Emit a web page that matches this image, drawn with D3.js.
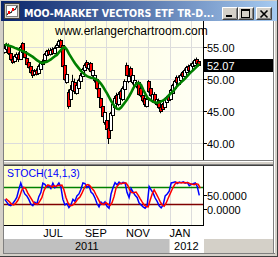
<!DOCTYPE html>
<html><head><meta charset="utf-8">
<script src="https://cdn.jsdelivr.net/npm/d3@7"></script>
<style>html,body{margin:0;padding:0;background:#d4d0c8;overflow:hidden}svg{display:block}</style>
</head><body>
<svg id="c" width="278" height="257"></svg>
<script>
const title = "MOO-MARKET VECTORS ETF TR-D...";
const watermark = "www.erlangerchartroom.com";
const stochTitle = "STOCH(14,1,3)";
const startDate = "2011-05-07", endDate = "2012-02-13";
const open  = [54.2,54.6,55.3,54.0,53.1,52.7,53.4,53.9,53.1,55.5,54.3,53.3,52.6,51.9,51.3,50.7,51.3,50.9,51.5,52.3,52.9,53.7,54.4,53.8,54.6,54.0,54.9,55.2,56.0,55.2,52.2,49.5,47.9,46.8,48.2,49.4,47.8,48.6,49.6,50.4,51.3,52.6,51.6,52.4,50.6,49.8,50.0,48.6,47.0,45.8,43.2,43.6,42.3,42.0,44.4,45.5,47.5,46.0,48.0,46.8,48.4,52.2,49.6,51.6,49.4,49.0,48.8,49.4,48.6,47.4,47.0,45.8,49.6,48.6,46.6,47.6,46.0,46.6,45.6,46.0,45.6,46.4,47.3,46.8,47.8,48.5,50.2,49.2,49.8,51.0,50.4,51.0,52.0,51.2,51.9,52.2,53.0,52.7];
const high  = [55.4,55.6,55.5,54.3,53.4,53.8,54.1,54.1,55.2,55.7,54.6,53.6,52.9,52.2,51.5,51.5,51.6,52.2,52.6,53.0,54.0,54.5,54.7,54.8,54.9,55.0,55.5,56.1,56.2,55.4,52.5,51.2,48.3,49.0,50.6,50.0,49.3,50.0,50.9,51.7,52.4,52.9,52.5,52.6,51.6,50.8,50.2,48.9,47.3,46.1,45.0,43.9,42.6,44.8,46.2,47.3,47.8,47.9,48.3,48.8,49.9,52.5,50.6,51.9,50.8,50.0,49.6,49.7,48.9,47.7,47.2,47.0,49.8,48.9,47.8,47.9,47.0,46.9,45.9,46.2,47.0,47.3,47.5,48.4,49.2,49.8,50.5,50.5,50.8,51.2,51.6,52.0,52.2,52.4,52.7,53.1,53.3,52.9];
const low   = [53.9,54.3,53.7,52.8,52.3,52.4,53.1,52.6,52.9,54.0,53.2,52.1,51.6,50.8,50.1,50.4,50.5,50.7,51.3,52.0,52.7,53.4,53.6,53.6,53.7,53.8,54.6,55.0,54.8,51.8,49.7,49.2,45.3,46.5,47.9,47.6,47.5,48.3,49.3,50.1,51.0,51.5,51.3,51.0,50.3,49.4,48.3,47.0,45.4,44.0,42.8,42.0,39.8,41.5,44.1,45.2,45.9,45.7,46.8,46.5,48.1,50.4,49.3,50.1,49.1,48.7,48.5,47.4,47.1,46.3,45.6,45.5,47.8,47.2,46.3,46.1,45.8,45.3,44.6,45.0,45.3,46.1,46.4,46.5,47.5,48.2,49.2,49.0,49.5,50.2,50.2,50.8,51.2,51.0,51.7,52.0,52.2,51.9];
const close = [54.8,55.2,54.0,53.0,52.6,53.5,53.8,53.0,55.0,54.2,53.4,52.3,51.8,51.0,50.6,51.2,50.8,52.0,52.4,52.8,53.8,54.3,53.9,54.5,54.0,54.8,55.3,55.8,55.0,52.0,50.0,50.8,45.7,48.4,49.6,48.0,49.0,49.8,50.6,51.5,52.2,51.8,52.3,51.2,51.4,50.6,48.5,47.2,45.6,44.2,44.8,42.2,40.8,44.6,46.0,47.0,46.2,47.6,47.0,48.6,49.6,50.6,50.4,50.4,50.6,49.8,49.4,47.6,47.4,46.6,46.0,46.8,48.0,47.4,47.6,46.4,46.8,45.5,44.9,45.2,46.8,47.1,46.6,48.2,49.0,49.6,49.4,50.3,50.6,50.4,51.4,51.8,51.4,52.2,52.5,52.9,52.4,52.07];
const movingAvg = [55.35,55.25,55.15,55.05,54.95,54.8,54.7,54.55,54.45,54.3,54.15,54.0,53.8,53.6,53.4,53.15,52.9,52.7,52.5,52.45,52.55,52.65,52.8,53.0,53.25,53.5,53.7,54.1,54.45,54.8,54.9,54.5,53.9,53.4,52.9,52.4,52.0,51.6,51.2,50.9,50.6,50.4,50.25,50.15,50.1,50.0,49.8,49.55,49.2,48.75,48.2,47.7,47.1,46.55,46.05,45.6,45.3,45.25,45.5,45.9,46.3,46.75,47.25,47.8,48.45,48.95,49.3,49.3,49.0,48.3,47.7,47.1,46.8,46.6,46.4,46.3,46.2,46.3,46.45,46.6,46.8,47.1,47.45,47.75,48.05,48.45,48.85,49.15,49.45,49.75,50.05,50.4,50.75,51.05,51.35,51.65,51.95,52.3];
const stochK = [35,25,15,12,20,30,42,70,95,72,55,48,35,18,12,25,18,45,60,94,90,80,85,75,94,78,85,95,80,35,15,20,5,15,35,28,48,55,72,95,93,78,85,62,55,40,20,8,25,18,26,10,3,55,78,96,88,98,92,97,95,60,42,75,62,50,42,22,15,8,3,12,82,70,58,40,28,12,4,15,48,55,65,95,97,99,93,98,96,99,94,97,85,90,92,95,82,50];
const stochD = [38,32,25,17,15,21,31,47,69,79,74,58,46,34,22,18,18,29,41,66,81,88,85,80,85,82,86,86,87,70,43,23,13,13,18,26,37,44,58,74,87,89,85,75,67,52,38,23,18,17,23,18,13,23,45,76,87,94,93,95,95,84,66,59,60,62,51,38,26,15,9,8,32,55,70,56,42,27,15,10,22,39,56,72,86,97,96,96,96,97,96,96,92,90,89,92,90,76];
const priceTicks = [40,45,50,55];
const stochTicks = [0,50];
const stochLevels = [80,20];
const monthLabels = ["JUL","SEP","NOV","JAN"];
const monthLabelDates = ["2011-07-16","2011-09-16","2011-11-16","2012-01-16"];
const yearLabels = ["2011","2012"];

const parse = d3.timeParse("%Y-%m-%d");
const n = close.length;
const t0 = parse(startDate).getTime(), t1 = parse(endDate).getTime();
const dates = d3.range(n).map(i => new Date(t0 + i * (t1 - t0) / (n - 1)));
const data = dates.map((d, i) => ({d, o: open[i], h: high[i], l: low[i], c: close[i], ma: movingAvg[i], k: stochK[i], sd: stochD[i]}));

const svg = d3.select("#c");
const font = "'Liberation Sans', Arial, sans-serif";
const L = 4, R = 203, PT = 21, PB = 160, ST = 166, SB = 225;

const x = d3.scaleTime().domain([new Date(2011,4,1), new Date(2012,2,1)]).range([0.6, 211]);
const yP = d3.scaleLinear().domain([37.3, 59.0]).range([PB, PT]);
const yS = d3.scaleLinear().domain([-58.4, 156.9]).range([SB, ST]);

const defs = svg.append("defs");
const tg = defs.append("linearGradient").attr("id","tb");
tg.append("stop").attr("offset","0").attr("stop-color","#0a246a");
tg.append("stop").attr("offset","1").attr("stop-color","#a6caf0");
const bg = defs.append("linearGradient").attr("id","pbg");
bg.append("stop").attr("offset","0").attr("stop-color","#ffffd0");
bg.append("stop").attr("offset","1").attr("stop-color","#fffff6");
defs.append("clipPath").attr("id","cp").append("rect").attr("x",L).attr("y",PT).attr("width",R-L).attr("height",PB-PT);
defs.append("clipPath").attr("id","cs").append("rect").attr("x",L).attr("y",ST).attr("width",R-L).attr("height",SB-ST);

// window frame
svg.append("rect").attr("width",278).attr("height",257).attr("fill","#d4d0c8");
// title bar
svg.append("rect").attr("x",1).attr("y",1).attr("width",276).attr("height",20).attr("fill","url(#tb)");
// icon
const ic = svg.append("g");
ic.append("rect").attr("x",4.5).attr("y",3.5).attr("width",15).attr("height",15).attr("fill","#d4d0c8").attr("stroke","#404040");
ic.append("rect").attr("x",6.5).attr("y",5.5).attr("width",11).attr("height",11).attr("fill","#ffffff").attr("stroke","#808080");
ic.append("polyline").attr("points","7,15 9,12 11,13 13,9 15,10 17,6").attr("fill","none").attr("stroke","#000").attr("stroke-width",1);
ic.append("rect").attr("x",12).attr("y",8).attr("width",2).attr("height",3).attr("fill","#ff0000");
ic.append("rect").attr("x",8).attr("y",11).attr("width",2).attr("height",3).attr("fill","#ff0000");
svg.append("text").attr("x",24).attr("y",17).attr("fill","#ffffff").attr("font-family","'DejaVu Sans', Verdana, sans-serif")
  .attr("font-weight","bold").attr("font-size",11).attr("textLength",190).attr("lengthAdjust","spacingAndGlyphs").text(title);
// buttons
function btn(bx){
  const g = svg.append("g");
  g.append("rect").attr("x",bx).attr("y",7).attr("width",16).attr("height",13).attr("fill","#d4d0c8");
  g.append("path").attr("d",`M${bx+0.5},${19.5}V${7.5}H${bx+15.5}`).attr("stroke","#ffffff").attr("fill","none");
  g.append("path").attr("d",`M${bx+0.5},${19.5}H${bx+15.5}V${7.5}`).attr("stroke","#404040").attr("fill","none");
  g.append("path").attr("d",`M${bx+1.5},${18.5}H${bx+14.5}V${8.5}`).attr("stroke","#808080").attr("fill","none");
  return g;
}
const b1 = btn(222); b1.append("rect").attr("x",226).attr("y",15).attr("width",6).attr("height",2).attr("fill","#000");
const b2 = btn(238); b2.append("rect").attr("x",241.5).attr("y",9.5).attr("width",8).attr("height",8).attr("fill","none").attr("stroke","#000");
b2.append("rect").attr("x",241).attr("y",9).attr("width",9).attr("height",2).attr("fill","#000");
const b3 = btn(256); b3.append("path").attr("d","M260.5,10.5L267.5,17.5M267.5,10.5L260.5,17.5").attr("stroke","#000").attr("stroke-width",1.6);

// panel backgrounds
svg.append("rect").attr("x",L).attr("y",PT).attr("width",273-L).attr("height",PB-PT).attr("fill","#ffffff");
svg.append("rect").attr("x",L).attr("y",PT).attr("width",R-L).attr("height",PB-PT).attr("fill","url(#pbg)");
svg.append("rect").attr("x",L).attr("y",ST).attr("width",273-L).attr("height",239-ST).attr("fill","#ffffff");
svg.append("rect").attr("x",L).attr("y",ST).attr("width",R-L).attr("height",SB-ST).attr("fill","url(#pbg)");
// left frame line
svg.append("line").attr("x1",3.5).attr("x2",3.5).attr("y1",PT).attr("y2",253).attr("stroke","#808080");
// splitter
svg.append("line").attr("x1",L).attr("x2",273).attr("y1",160.5).attr("y2",160.5).attr("stroke","#808080");
svg.append("line").attr("x1",L).attr("x2",273).attr("y1",161.5).attr("y2",161.5).attr("stroke","#ffffff");
svg.append("line").attr("x1",L).attr("x2",273).attr("y1",164.5).attr("y2",164.5).attr("stroke","#808080");
svg.append("line").attr("x1",L).attr("x2",273).attr("y1",165.5).attr("y2",165.5).attr("stroke","#404040");
// right frame highlight
svg.append("line").attr("x1",273.5).attr("x2",273.5).attr("y1",PT).attr("y2",253).attr("stroke","#808080");
svg.append("line").attr("x1",274.5).attr("x2",274.5).attr("y1",PT).attr("y2",253).attr("stroke","#ffffff");

// gridlines
const months = d3.timeMonth.range(new Date(2011,5,1), new Date(2012,2,1));
const gx = v => Math.round(x(v)) + 0.5;
[[PT,PB],[ST,SB]].forEach(([a,b]) => {
  svg.append("g").selectAll("line").data(months).join("line")
    .attr("x1",gx).attr("x2",gx).attr("y1",a).attr("y2",b).attr("stroke","#dcdcdc");
});
svg.append("g").selectAll("line").data(priceTicks).join("line")
  .attr("x1",L).attr("x2",R).attr("y1",v=>Math.round(yP(v))+0.5).attr("y2",v=>Math.round(yP(v))+0.5).attr("stroke","#dcdcdc");

// watermark
svg.append("text").attr("x",55).attr("y",35).attr("font-family",font).attr("font-size",12).attr("fill","#000").text(watermark);

// candles
const cg = svg.append("g").attr("clip-path","url(#cp)");
data.forEach(d => {
  const c = Math.round(x(d.d));
  cg.append("line").attr("x1",c-0.5).attr("x2",c-0.5).attr("y1",yP(d.h)).attr("y2",yP(d.l)).attr("stroke","#000");
  const top = Math.round(yP(Math.max(d.o,d.c)))+0.5, bot = Math.round(yP(Math.min(d.o,d.c)))+0.5;
  cg.append("rect").attr("x",c-1.5).attr("y",top).attr("width",3).attr("height",Math.max(1,bot-top))
    .attr("fill", d.c >= d.o ? "#ffffff" : "#ff0000").attr("stroke","#000").attr("stroke-width",1);
});
cg.append("path").datum(data).attr("fill","none").attr("stroke","#008000").attr("stroke-width",2.6)
  .attr("d", d3.line().x(d=>x(d.d)).y(d=>yP(d.ma)));

// price axis
svg.append("line").attr("x1",R+0.5).attr("x2",R+0.5).attr("y1",PT).attr("y2",PB).attr("stroke","#000");
const pa = svg.append("g");
priceTicks.forEach(v => {
  const yy = Math.round(yP(v))+0.5;
  pa.append("line").attr("x1",R).attr("x2",R+4).attr("y1",yy).attr("y2",yy).attr("stroke","#000");
  pa.append("text").attr("x",R+4).attr("y",yy+4).attr("font-family",font).attr("font-size",11).attr("fill","#000").text(d3.format(".2f")(v));
});
const last = data[n-1];
const ly = yP(last.c);
svg.append("rect").attr("x",R+1).attr("y",Math.round(ly-6.5)).attr("width",69).attr("height",13).attr("fill","#000");
svg.append("text").attr("x",R+4).attr("y",Math.round(ly-6.5)+11).attr("font-family",font).attr("font-size",11).attr("fill","#fff").text(d3.format(".2f")(last.c));

// stochastic
const sg = svg.append("g").attr("clip-path","url(#cs)");
const lvlColor = {80:"#008000",20:"#800000"};
stochLevels.forEach(v => {
  sg.append("line").attr("x1",L).attr("x2",R).attr("y1",Math.round(yS(v))+0.5).attr("y2",Math.round(yS(v))+0.5)
    .attr("stroke",lvlColor[v]).attr("stroke-width",1.4);
});
sg.append("path").datum(data).attr("fill","none").attr("stroke","#0000ff").attr("stroke-width",1.5)
  .attr("d", d3.line().x(d=>x(d.d)).y(d=>yS(d.k)));
sg.append("path").datum(data).attr("fill","none").attr("stroke","#ff0000").attr("stroke-width",1.5)
  .attr("d", d3.line().x(d=>x(d.d)+1).y(d=>yS(d.sd)));
svg.append("text").attr("x",7).attr("y",176.5).attr("font-family",font).attr("font-size",10.5).attr("fill","#0000ff").text(stochTitle);
svg.append("line").attr("x1",R+0.5).attr("x2",R+0.5).attr("y1",ST).attr("y2",SB).attr("stroke","#000");
svg.append("line").attr("x1",L).attr("x2",R+1).attr("y1",SB+0.5).attr("y2",SB+0.5).attr("stroke","#000");
stochTicks.forEach(v => {
  const yy = Math.round(yS(v))+0.5;
  svg.append("line").attr("x1",R).attr("x2",R+4).attr("y1",yy).attr("y2",yy).attr("stroke","#000");
  svg.append("text").attr("x",R+4).attr("y",yy+4).attr("font-family",font).attr("font-size",11).attr("fill","#000").text(d3.format(".4f")(v));
});

// month labels
monthLabels.forEach((m,i) => {
  svg.append("text").attr("x",x(parse(monthLabelDates[i]))).attr("y",237).attr("text-anchor","middle")
    .attr("font-family",font).attr("font-size",11).attr("fill","#000").text(m);
});
// year bar
const yb = x(new Date(2012,0,1));
svg.append("rect").attr("x",L).attr("y",239).attr("width",yb-L).attr("height",14).attr("fill","#c0c0c0");
svg.append("rect").attr("x",yb).attr("y",239).attr("width",R+1-yb).attr("height",14).attr("fill","#ffffff");
svg.append("rect").attr("x",R+1).attr("y",239).attr("width",273-R-1).attr("height",14).attr("fill","#d4d0c8");
svg.append("text").attr("x",(L+yb)/2).attr("y",250).attr("text-anchor","middle").attr("font-family",font).attr("font-size",11).text(yearLabels[0]);
svg.append("text").attr("x",(yb+R)/2).attr("y",250).attr("text-anchor","middle").attr("font-family",font).attr("font-size",11).text(yearLabels[1]);
svg.append("line").attr("x1",3).attr("x2",275).attr("y1",253.5).attr("y2",253.5).attr("stroke","#808080");
svg.append("line").attr("x1",0).attr("x2",278).attr("y1",256.5).attr("y2",256.5).attr("stroke","#404040");
svg.append("line").attr("x1",277.5).attr("x2",277.5).attr("y1",0).attr("y2",257).attr("stroke","#404040");
</script>
</body></html>
